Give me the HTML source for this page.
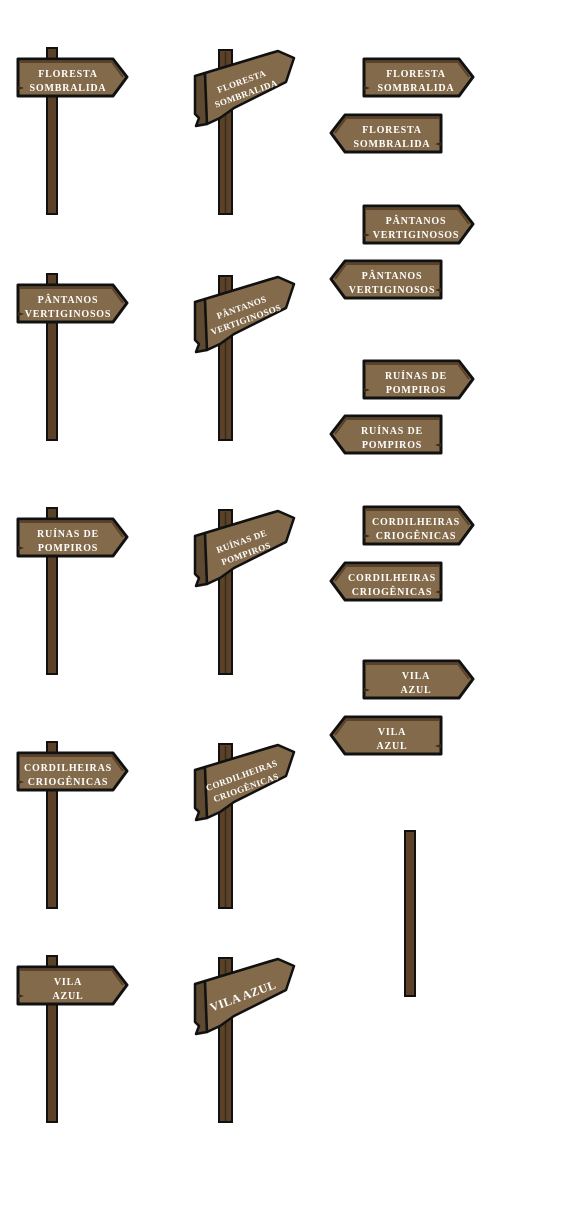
<!DOCTYPE html>
<html><head><meta charset="utf-8"><style>
html,body{margin:0;padding:0;background:#fff;}
svg{display:block}
text{font-family:"Liberation Serif",serif;font-weight:bold;fill:#fff;font-size:10px;letter-spacing:0.8px;text-anchor:middle}
.c2{font-size:9px;letter-spacing:0.4px}
</style></head><body>
<svg width="564" height="1206" viewBox="0 0 564 1206" xmlns="http://www.w3.org/2000/svg">
<defs>
<g id="post1">
<rect x="47" y="48" width="10" height="166" fill="#5a4128" stroke="#111" stroke-width="2"/>
</g>
<g id="sR">
<path d="M18,59 L113,59 L127,77 L113,96 L18,96 Z" fill="#836a4a" stroke="#111" stroke-width="3" stroke-linejoin="round"/>
<path d="M20,62 L112,62 L123,77" fill="none" stroke="#5a4128" stroke-width="2"/>
<path d="M18,86 L24,88 L18,90 Z" fill="#3a2a18"/>
</g>
<g id="sL">
<path d="M441,115 L345,115 L331,133 L345,152 L441,152 Z" fill="#836a4a" stroke="#111" stroke-width="3" stroke-linejoin="round"/>
<path d="M439,118 L346,118 L335,133" fill="none" stroke="#5a4128" stroke-width="2"/>
<path d="M441,142 L435,144 L441,146 Z" fill="#3a2a18"/>
</g>
<g id="col2">
<rect x="219" y="50" width="13" height="164" fill="#5a4128" stroke="#111" stroke-width="2"/>
<line x1="225.5" y1="52" x2="225.5" y2="213" stroke="#3a2a18" stroke-width="1.5"/>
<path d="M195,76 L205,73 L207,124 L196,126 L199,118 L195,114 Z" fill="#5e4a30" stroke="#111" stroke-width="2.5" stroke-linejoin="round"/>
<path d="M205,73 L278,51 L294,58 L286,82 L262,94 L234,108 L220,118 L207,124 Z" fill="#836a4a" stroke="#111" stroke-width="2.5" stroke-linejoin="round"/>
<path d="M195,76 L270,53 L278,51" fill="none" stroke="#111" stroke-width="2"/>
</g>
</defs>

<!-- column 1 -->
<g><use href="#post1"/><use href="#sR"/><text x="68" y="77">FLORESTA</text><text x="68" y="91">SOMBRALIDA</text></g>
<g transform="translate(0,226)"><use href="#post1"/><use href="#sR"/><text x="68" y="77">PÂNTANOS</text><text x="68" y="91">VERTIGINOSOS</text></g>
<g transform="translate(0,460)"><use href="#post1"/><use href="#sR"/><text x="68" y="77">RUÍNAS DE</text><text x="68" y="91">POMPIROS</text></g>
<g transform="translate(0,694)"><use href="#post1"/><use href="#sR"/><text x="68" y="77">CORDILHEIRAS</text><text x="68" y="91">CRIOGÊNICAS</text></g>
<g transform="translate(0,908)"><use href="#post1"/><use href="#sR"/><text x="68" y="77">VILA</text><text x="68" y="91">AZUL</text></g>

<!-- column 2 -->
<g><use href="#col2"/><g transform="translate(244,88) rotate(-20)"><text class="c2" x="0" y="-4">FLORESTA</text><text class="c2" x="0" y="9">SOMBRALIDA</text></g></g>
<g transform="translate(0,226)"><use href="#col2"/><g transform="translate(244,88) rotate(-20)"><text class="c2" x="0" y="-4">PÂNTANOS</text><text class="c2" x="0" y="9">VERTIGINOSOS</text></g></g>
<g transform="translate(0,460)"><use href="#col2"/><g transform="translate(244,88) rotate(-20)"><text class="c2" x="0" y="-4">RUÍNAS DE</text><text class="c2" x="0" y="9">POMPIROS</text></g></g>
<g transform="translate(0,694)"><use href="#col2"/><g transform="translate(244,88) rotate(-20)"><text class="c2" x="0" y="-4">CORDILHEIRAS</text><text class="c2" x="0" y="9">CRIOGÊNICAS</text></g></g>
<g transform="translate(0,908)"><use href="#col2"/><g transform="translate(243,88) rotate(-20)"><text x="0" y="4" style="font-size:12px;letter-spacing:0.5px">VILA AZUL</text></g></g>

<!-- column 3 -->
<g transform="translate(346,0)"><use href="#sR"/></g><text x="416" y="77">FLORESTA</text><text x="416" y="91">SOMBRALIDA</text>
<use href="#sL"/><text x="392" y="133">FLORESTA</text><text x="392" y="147">SOMBRALIDA</text>

<g transform="translate(346,147)"><use href="#sR"/></g><text x="416" y="224">PÂNTANOS</text><text x="416" y="238">VERTIGINOSOS</text>
<g transform="translate(0,146)"><use href="#sL"/></g><text x="392" y="279">PÂNTANOS</text><text x="392" y="293">VERTIGINOSOS</text>

<g transform="translate(346,302)"><use href="#sR"/></g><text x="416" y="379">RUÍNAS DE</text><text x="416" y="393">POMPIROS</text>
<g transform="translate(0,301)"><use href="#sL"/></g><text x="392" y="434">RUÍNAS DE</text><text x="392" y="448">POMPIROS</text>

<g transform="translate(346,448)"><use href="#sR"/></g><text x="416" y="525">CORDILHEIRAS</text><text x="416" y="539">CRIOGÊNICAS</text>
<g transform="translate(0,448)"><use href="#sL"/></g><text x="392" y="581">CORDILHEIRAS</text><text x="392" y="595">CRIOGÊNICAS</text>

<g transform="translate(346,602)"><use href="#sR"/></g><text x="416" y="679">VILA</text><text x="416" y="693">AZUL</text>
<g transform="translate(0,602)"><use href="#sL"/></g><text x="392" y="735">VILA</text><text x="392" y="749">AZUL</text>

<rect x="405" y="831" width="10" height="165" fill="#5a4128" stroke="#111" stroke-width="2"/>
</svg>
</body></html>
